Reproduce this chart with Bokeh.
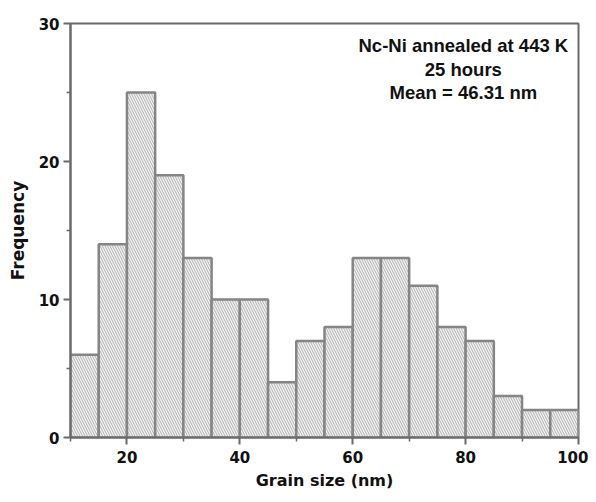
from bokeh.plotting import figure
from bokeh.embed import file_html
from bokeh.resources import INLINE
from bokeh.models import Label, FixedTicker, Range1d

bin_left = [10, 15, 20, 25, 30, 35, 40, 45, 50, 55, 60, 65, 70, 75, 80, 85, 90, 95]
counts = [6, 14, 25, 19, 13, 10, 10, 4, 7, 8, 13, 13, 11, 8, 7, 3, 2, 2]
bin_width = 5
x_ticks = [20, 40, 60, 80, 100]
x_minor = [10, 30, 50, 70, 90]
y_ticks = [0, 10, 20, 30]
y_minor = [5, 15, 25]
annotation = ["Nc-Ni annealed at 443 K", "25 hours", "Mean = 46.31 nm"]

p = figure(width=588, height=494, output_backend="svg", toolbar_location=None,
           x_range=Range1d(10, 100), y_range=Range1d(0, 30),
           min_border_left=70, min_border_right=10, min_border_top=23, min_border_bottom=57)

rights = [b + bin_width for b in bin_left]
p.quad(left=bin_left, right=rights, bottom=0, top=counts,
       fill_color="#f3f3f3", line_color="#858585", line_width=2.5,
       hatch_pattern="\\", hatch_color="#b0b0b0", hatch_scale=5, hatch_weight=1)

p.xgrid.visible = False
p.ygrid.visible = False
p.outline_line_color = "#6a6a6a"
p.outline_line_width = 2

for ax in (p.xaxis[0], p.yaxis[0]):
    ax.axis_line_color = "#6a6a6a"
    ax.axis_line_width = 2
    ax.major_tick_line_color = "#6a6a6a"
    ax.major_tick_line_width = 2
    ax.minor_tick_line_color = "#6a6a6a"
    ax.minor_tick_line_width = 1.5
    ax.major_tick_out = 7
    ax.major_tick_in = 0
    ax.minor_tick_out = 4
    ax.minor_tick_in = 0
    ax.major_label_text_font = "DejaVu Sans"
    ax.major_label_text_font_style = "bold"
    ax.major_label_text_font_size = "15px"
    ax.major_label_text_color = "#111111"
    ax.axis_label_text_font = "DejaVu Sans"
    ax.axis_label_text_font_style = "bold"
    ax.axis_label_text_font_size = "16px"
    ax.axis_label_text_color = "#111111"

p.yaxis.axis_label_text_font_size = "17px"
p.xaxis.ticker = FixedTicker(ticks=x_ticks, minor_ticks=x_minor)
p.yaxis.ticker = FixedTicker(ticks=y_ticks, minor_ticks=y_minor)
p.xaxis.major_label_standoff = 6
p.yaxis.major_label_standoff = 4
p.xaxis.axis_label = "Grain size (nm)"
p.yaxis.axis_label = "Frequency"
p.xaxis.axis_label_standoff = 5
p.yaxis.axis_label_standoff = 8

ys = [28.4, 26.65, 25.0]
for t, yy in zip(annotation, ys):
    p.add_layout(Label(x=79.6, y=yy, text=t, text_align="center", text_baseline="middle",
                       text_font="Liberation Sans", text_font_size="18.5px",
                       text_font_style="bold", text_color="#111111"))

open("out.html", "w").write(file_html(p, INLINE))
